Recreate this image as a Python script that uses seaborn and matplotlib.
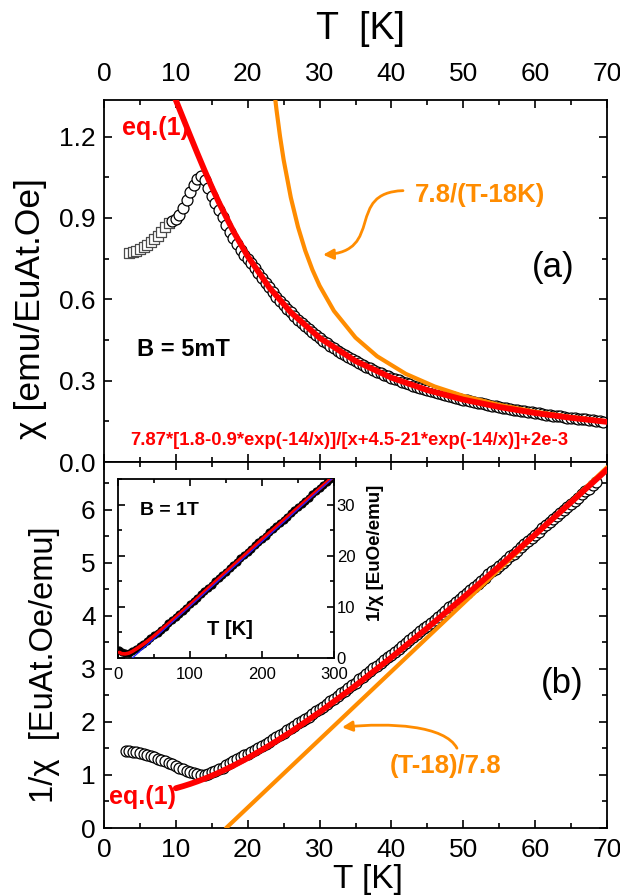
import matplotlib
matplotlib.use("Agg")
import matplotlib.pyplot as plt
import seaborn as sns
from matplotlib.path import Path
from matplotlib.patches import FancyArrowPatch
from matplotlib.ticker import MultipleLocator, FormatStrFormatter

# ---------------- data ----------------
# panel (a): chi(T) at B = 5 mT
sq_T = [3.5, 4.0, 4.5, 5.0, 5.5, 6.0, 6.5, 7.0, 7.5, 8.0, 8.5, 9.0]
sq_chi = [0.770, 0.774, 0.779, 0.785, 0.792, 0.800, 0.810, 0.822, 0.835, 0.850, 0.866, 0.883]

circ_T = [9.5, 10.0, 10.5, 11.0, 11.5, 12.0, 12.5, 13.0, 13.5, 14.0, 14.5, 15.0, 15.5, 16.0, 16.5,
          17.0, 17.5, 18.0, 18.5, 19.0, 19.5, 20.0,
          20.5, 21.0, 21.5, 22.0, 22.5, 23.0, 23.5, 24.0, 24.5, 25.0, 25.5, 26.0, 26.5, 27.0, 27.5,
          28.0, 28.5, 29.0, 29.5, 30.0,
          30.5, 31.0, 31.5, 32.0, 32.5, 33.0, 33.5, 34.0, 34.5, 35.0, 35.5, 36.0, 36.5, 37.0, 37.5,
          38.0, 38.5, 39.0, 39.5, 40.0,
          40.5, 41.0, 41.5, 42.0, 42.5, 43.0, 43.5, 44.0, 44.5, 45.0, 45.5, 46.0, 46.5, 47.0, 47.5,
          48.0, 48.5, 49.0, 49.5, 50.0,
          50.5, 51.0, 51.5, 52.0, 52.5, 53.0, 53.5, 54.0, 54.5, 55.0, 55.5, 56.0, 56.5, 57.0, 57.5,
          58.0, 58.5, 59.0, 59.5, 60.0,
          60.5, 61.0, 61.5, 62.0, 62.5, 63.0, 63.5, 64.0, 64.5, 65.0, 65.5, 66.0, 66.5, 67.0, 67.5,
          68.0, 68.5, 69.0, 69.5]
circ_chi = [0.887, 0.895, 0.910, 0.935, 0.965, 0.995, 1.022, 1.045, 1.055, 1.040, 1.010, 0.980, 0.955, 0.930, 0.905,
            0.875, 0.850, 0.826, 0.803, 0.782, 0.765, 0.750,
            0.733, 0.714, 0.696, 0.678, 0.661, 0.644, 0.627, 0.610, 0.595, 0.580, 0.566, 0.552, 0.538, 0.525, 0.513,
            0.501, 0.489, 0.478, 0.468, 0.458,
            0.448, 0.438, 0.429, 0.420, 0.411, 0.403, 0.395, 0.387, 0.380, 0.373, 0.365, 0.358, 0.352, 0.345, 0.339,
            0.333, 0.327, 0.322, 0.316, 0.311,
            0.306, 0.301, 0.296, 0.291, 0.286, 0.282, 0.277, 0.273, 0.269, 0.265, 0.261, 0.257, 0.254, 0.250, 0.247,
            0.243, 0.240, 0.236, 0.233, 0.230,
            0.227, 0.224, 0.221, 0.218, 0.216, 0.213, 0.210, 0.208, 0.205, 0.203, 0.200, 0.198, 0.196, 0.193, 0.191,
            0.189, 0.187, 0.185, 0.183, 0.181,
            0.179, 0.177, 0.175, 0.173, 0.171, 0.170, 0.168, 0.166, 0.164, 0.163, 0.161, 0.160, 0.158, 0.157, 0.155,
            0.154, 0.152, 0.151, 0.149]

# eq.(1) fit curve, values at sample temperatures
fit_T = [9.5, 10, 11, 12, 13, 14, 15, 16, 18, 20, 23, 26, 30, 35, 40, 45, 50, 55, 60, 65, 70]
fit_chi = [1.367, 1.3344, 1.2685, 1.2028, 1.1380, 1.0749, 1.0143, 0.9567, 0.8510, 0.7587, 0.6435, 0.5519,
           0.4579, 0.3725, 0.3109, 0.2651, 0.2301, 0.2027, 0.1807, 0.1628, 0.1480]
fit_inv = [0.7315, 0.7494, 0.7883, 0.8314, 0.8788, 0.9303, 0.9859, 1.0453, 1.1750, 1.3180, 1.5539, 1.8119,
           2.1840, 2.6849, 3.2165, 3.7717, 4.3452, 4.9329, 5.5325, 6.1410, 6.7568]

# Curie-Weiss curve 7.8/(T-18K)
cw_T = [23.85, 24, 24.5, 25, 26, 27, 28, 29, 30, 32, 35, 38, 42, 46, 50, 55, 60, 65, 70]
cw_chi = [1.3333, 1.3000, 1.2000, 1.1143, 0.9750, 0.8667, 0.7800, 0.7091, 0.6500, 0.5571, 0.4588, 0.3900,
          0.3250, 0.2786, 0.2438, 0.2108, 0.1857, 0.1660, 0.1500]

# panel (b): 1/chi(T)
inv_T = [3.0, 3.5, 4.0, 4.5, 5.0, 5.5, 6.0, 6.5, 7.0, 7.5, 8.0, 8.5, 9.0, 9.5, 10.0, 10.5, 11.0, 11.5,
         12.0, 12.5, 13.0, 13.5, 14.0, 14.5, 15.0, 15.5, 16.0, 16.5, 17.0, 17.5, 18.0, 18.5, 19.0, 19.5, 20.0,
         20.5, 21.0, 21.5, 22.0, 22.5, 23.0, 23.5, 24.0, 24.5, 25.0, 25.5, 26.0, 26.5, 27.0, 27.5,
         28.0, 28.5, 29.0, 29.5, 30.0,
         30.5, 31.0, 31.5, 32.0, 32.5, 33.0, 33.5, 34.0, 34.5, 35.0, 35.5, 36.0, 36.5, 37.0, 37.5,
         38.0, 38.5, 39.0, 39.5, 40.0,
         40.5, 41.0, 41.5, 42.0, 42.5, 43.0, 43.5, 44.0, 44.5, 45.0, 45.5, 46.0, 46.5, 47.0, 47.5,
         48.0, 48.5, 49.0, 49.5, 50.0,
         50.5, 51.0, 51.5, 52.0, 52.5, 53.0, 53.5, 54.0, 54.5, 55.0, 55.5, 56.0, 56.5, 57.0, 57.5,
         58.0, 58.5, 59.0, 59.5, 60.0,
         60.5, 61.0, 61.5, 62.0, 62.5, 63.0, 63.5, 64.0, 64.5, 65.0, 65.5, 66.0, 66.5, 67.0, 67.5,
         68.0, 68.5]
inv_val = [1.46, 1.45, 1.44, 1.43, 1.41, 1.39, 1.37, 1.35, 1.33, 1.31, 1.29, 1.26, 1.23, 1.20, 1.17, 1.14,
           1.11, 1.08, 1.05, 1.03, 1.01, 0.99, 1.00, 1.02, 1.05, 1.08, 1.11, 1.14, 1.18, 1.22, 1.26, 1.30,
           1.33, 1.37, 1.40,
           1.43, 1.47, 1.51, 1.55, 1.58, 1.62, 1.67, 1.71, 1.75, 1.80, 1.84, 1.88, 1.93, 1.98, 2.01,
           2.06, 2.10, 2.15, 2.20, 2.24,
           2.29, 2.34, 2.39, 2.44, 2.49, 2.54, 2.59, 2.64, 2.69, 2.74, 2.80, 2.85, 2.90, 2.96, 3.01,
           3.06, 3.12, 3.17, 3.22, 3.27,
           3.32, 3.38, 3.43, 3.49, 3.54, 3.60, 3.66, 3.71, 3.77, 3.81, 3.87, 3.93, 3.98, 4.04, 4.10,
           4.16, 4.21, 4.27, 4.32, 4.38,
           4.43, 4.49, 4.55, 4.60, 4.66, 4.72, 4.78, 4.84, 4.88, 4.94, 5.00, 5.06, 5.12, 5.17, 5.23,
           5.29, 5.35, 5.41, 5.47, 5.53,
           5.58, 5.65, 5.71, 5.77, 5.82, 5.88, 5.94, 6.00, 6.05, 6.11, 6.17, 6.22, 6.29, 6.35, 6.40,
           6.46, 6.52]

# straight line (T-18)/7.8 (end points)
lin_T = [17.0, 70.0]
lin_val = [0.0, 6.8]

# inset: 1/chi at B = 1T
ins_T = [2, 5, 10, 15, 20, 25, 30, 35, 40, 45, 50, 55, 60, 65, 70, 75, 80, 85, 90, 95, 100,
         105, 110, 115, 120, 125, 130, 135, 140, 145, 150, 155, 160, 165, 170, 175, 180, 185, 190, 195, 200,
         205, 210, 215, 220, 225, 230, 235, 240, 245, 250, 255, 260, 265, 270, 275, 280, 285, 290, 295, 300]
ins_val = [1.5, 1.2, 0.9, 1.0, 1.35, 1.8, 2.25, 2.75, 3.25, 3.9, 4.4, 4.95, 5.55, 6.15, 6.75,
           7.37, 7.99, 8.62, 9.24, 9.87, 10.5,
           11.14, 11.78, 12.42, 13.06, 13.7, 14.34, 14.98, 15.62, 16.26, 16.9,
           17.54, 18.18, 18.82, 19.46, 20.1, 20.74, 21.38, 22.02, 22.66, 23.3,
           23.92, 24.54, 25.16, 25.78, 26.4, 27.02, 27.64, 28.26, 28.88, 29.5,
           30.12, 30.74, 31.36, 31.98, 32.6, 33.22, 33.84, 34.46, 35.08, 35.7]
ins_fit_T = [2, 5, 10, 15, 20, 30, 40, 50, 60, 70, 100, 150, 200, 250, 300]
ins_fit_val = [1.1, 0.85, 0.8, 0.95, 1.3, 2.2, 3.2, 4.3, 5.5, 6.7, 10.4, 16.8, 23.2, 29.4, 35.6]
ins_cw_T = [18.0, 300.0]
ins_cw_val = [-0.25, 35.4]

# ---------------- style ----------------
sns.set_style("ticks", rc={"axes.edgecolor": "black", "xtick.color": "black", "ytick.color": "black",
                           "text.color": "black", "axes.labelcolor": "black"})
plt.rcParams['font.family'] = ['Liberation Sans', 'DejaVu Sans']

RED = "#ff0000"
ORANGE = "#ff8c00"
BLUE = "#1f1fff"

fig = plt.figure(figsize=(6.2, 8.96), dpi=100)
ax1 = fig.add_axes([104 / 620, (896 - 462) / 896, 503 / 620, 362 / 896])
ax2 = fig.add_axes([104 / 620, (896 - 828) / 896, 503 / 620, 366 / 896])
ax3 = fig.add_axes([118 / 620, (896 - 658) / 896, 216 / 620, 179 / 896])


def style_axis(ax, lab_size, major_len=6, minor_len=3.5, pad=6):
    ax.tick_params(which='both', direction='in', top=True, right=True, width=1.2, colors='black')
    ax.tick_params(which='major', length=major_len, labelsize=lab_size, pad=pad)
    ax.tick_params(which='minor', length=minor_len)
    for s in ax.spines.values():
        s.set_linewidth(1.3)
        s.set_color('black')


# ----- panel (a) -----
sns.scatterplot(x=sq_T, y=sq_chi, ax=ax1, marker='s', s=50, color='white', edgecolor='#4a4a4a',
                linewidth=0.9, zorder=2)
sns.scatterplot(x=circ_T, y=circ_chi, ax=ax1, marker='o', s=62, color='white', edgecolor='black',
                linewidth=0.9, zorder=2)
sns.lineplot(x=fit_T, y=fit_chi, ax=ax1, color=RED, linewidth=4.2, sort=False, estimator=None, zorder=4)
sns.lineplot(x=cw_T, y=cw_chi, ax=ax1, color=ORANGE, linewidth=3.0, sort=False, estimator=None, zorder=3)

ax1.set_xlim(0, 70)
ax1.set_ylim(0, 1.335)
ax1.xaxis.set_major_locator(MultipleLocator(10))
ax1.xaxis.set_minor_locator(MultipleLocator(5))
ax1.yaxis.set_major_locator(MultipleLocator(0.3))
ax1.yaxis.set_minor_locator(MultipleLocator(0.15))
ax1.yaxis.set_major_formatter(FormatStrFormatter('%.1f'))
style_axis(ax1, 19)
ax1.tick_params(axis='x', which='major', pad=10)
ax1.tick_params(labeltop=True, labelbottom=False)
ax1.xaxis.set_label_position('top')
ax1.set_xlabel("T  [K]", fontsize=27)
ax1.xaxis.set_label_coords(0.509, 1.168)
ax1.set_ylabel("χ [emu/EuAt.Oe]", fontsize=25.5)
ax1.yaxis.set_label_coords(-0.113, 0.425)

ax1.text(7.2, 1.233, "eq.(1)", color=RED, fontsize=18, fontweight='bold', ha='center', va='center')
ax1.text(52.3, 0.986, "7.8/(T-18K)", color=ORANGE, fontsize=18.5, fontweight='bold', ha='center', va='center')
ax1.text(62.5, 0.716, "(a)", fontsize=25, ha='center', va='center')
ax1.text(11.1, 0.414, "B = 5mT", fontsize=17, fontweight='bold', ha='center', va='center')
ax1.text(34.1, 0.081, "7.87*[1.8-0.9*exp(-14/x)]/[x+4.5-21*exp(-14/x)]+2e-3", color=RED, fontsize=13.3,
         fontweight='bold', ha='center', va='center')

arrow_a = Path([(41.61, 1.0007), (33.54, 0.9934), (39.10, 0.7755), (30.48, 0.7644)],
               [Path.MOVETO, Path.CURVE4, Path.CURVE4, Path.CURVE4])
ax1.add_patch(FancyArrowPatch(path=arrow_a, arrowstyle='-|>,head_length=6,head_width=3', color=ORANGE,
                              lw=2.0, transform=ax1.transData, zorder=5))

# ----- panel (b) -----
sns.scatterplot(x=inv_T, y=inv_val, ax=ax2, marker='o', s=62, color='white', edgecolor='black',
                linewidth=0.9, zorder=2)
sns.lineplot(x=fit_T[1:], y=fit_inv[1:], ax=ax2, color=RED, linewidth=4.2, sort=False, estimator=None, zorder=4)
sns.lineplot(x=lin_T, y=lin_val, ax=ax2, color=ORANGE, linewidth=3.0, sort=False, estimator=None, zorder=3)

ax2.set_xlim(0, 70)
ax2.set_ylim(0, 6.9)
ax2.xaxis.set_major_locator(MultipleLocator(10))
ax2.xaxis.set_minor_locator(MultipleLocator(5))
ax2.yaxis.set_major_locator(MultipleLocator(1))
ax2.yaxis.set_minor_locator(MultipleLocator(0.5))
style_axis(ax2, 19)
ax2.tick_params(axis='x', which='major', pad=7)
ax2.set_xlabel("T [K]", fontsize=24)
ax2.xaxis.set_label_coords(0.525, -0.098)
ax2.set_ylabel("1/χ  [EuAt.Oe/emu]", fontsize=23.5)
ax2.yaxis.set_label_coords(-0.0875, 0.445)

ax2.text(63.7, 2.73, "(b)", fontsize=25, ha='center', va='center')
ax2.text(47.6, 1.17, "(T-18)/7.8", color=ORANGE, fontsize=18.5, fontweight='bold', ha='center', va='center')
ax2.text(5.4, 0.58, "eq.(1)", color=RED, fontsize=18, fontweight='bold', ha='center', va='center')

arrow_b = Path([(49.12, 1.504), (47.45, 1.936), (39.80, 1.992), (33.12, 1.898)],
               [Path.MOVETO, Path.CURVE4, Path.CURVE4, Path.CURVE4])
ax2.add_patch(FancyArrowPatch(path=arrow_b, arrowstyle='-|>,head_length=6,head_width=3', color=ORANGE,
                              lw=2.0, transform=ax2.transData, zorder=5))

# ----- inset -----
ax3.set_facecolor('white')
sns.scatterplot(x=ins_T, y=ins_val, ax=ax3, marker='o', s=28, color='black', edgecolor='black',
                linewidth=0.5, zorder=2)
sns.lineplot(x=ins_fit_T, y=ins_fit_val, ax=ax3, color=RED, linewidth=2.6, sort=False, estimator=None, zorder=3)
sns.lineplot(x=ins_cw_T, y=ins_cw_val, ax=ax3, color=BLUE, linewidth=0.9, sort=False, estimator=None, zorder=4)
ax3.set_xlim(0, 300)
ax3.set_ylim(0, 35)
ax3.xaxis.set_major_locator(MultipleLocator(100))
ax3.xaxis.set_minor_locator(MultipleLocator(50))
ax3.yaxis.set_major_locator(MultipleLocator(10))
ax3.yaxis.set_minor_locator(MultipleLocator(5))
style_axis(ax3, 12, major_len=5, minor_len=3, pad=2)
ax3.tick_params(axis='x', which='major', pad=6.5)
ax3.tick_params(labelleft=False, labelright=True)
ax3.set_xlabel("")
ax3.set_ylabel("")
ax3.text(156, 5.5, "T [K]", fontsize=14.5, fontweight='bold', ha='center', va='center')
ax3.text(72, 28.9, "B = 1T", fontsize=14, fontweight='bold', ha='center', va='center')
ax3.text(1.19, 0.587, "1/χ [EuOe/emu]", fontsize=13.5, fontweight='bold', rotation=90,
         ha='center', va='center', transform=ax3.transAxes)

fig.savefig("out.png", dpi=100)
